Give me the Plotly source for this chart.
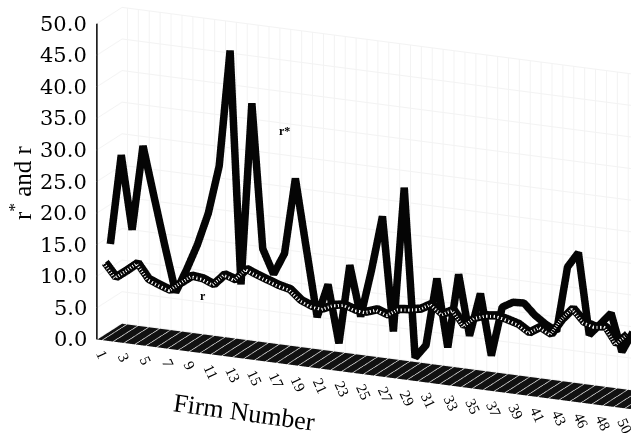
import math
import plotly.graph_objects as go

# Firm identifiers (one firm number is absent from the sample)
firms = list(range(1, 45)) + list(range(46, 51))

# Estimated return r* and required return r for each firm (%)
r_star = [14.4, 28.7, 17.1, 30.6, 22.9, 15.3, 8.1, 11.9, 16.1, 21.3,
          29.0, 47.5, 10.7, 39.6, 16.8, 13.0, 16.5, 28.6, 17.8, 7.1,
          12.5, 3.4, 16.0, 8.1, 15.7, 24.4, 6.4, 29.4, 2.7, 4.9,
          15.7, 5.0, 16.8, 7.3, 14.2, 4.6, 12.5, 13.5, 13.6, 11.9,
          10.7, 9.8, 20.2, 22.7, 9.9, 11.8, 13.8, 7.9, 11.2]
r_req = [12.0, 9.9, 11.2, 12.6, 10.3, 9.6, 9.0, 10.4, 11.7, 11.5,
         10.8, 12.6, 12.0, 13.9, 13.2, 12.6, 12.0, 11.6, 10.1, 9.4,
         9.2, 10.0, 10.3, 9.7, 9.6, 10.2, 9.6, 10.7, 10.9, 11.2,
         12.2, 10.8, 11.7, 9.4, 10.9, 11.5, 11.7, 11.3, 10.8, 9.7,
         10.8, 9.9, 12.5, 14.4, 12.5, 12.0, 12.2, 9.7, 11.4]

value_ticks = [0, 5, 10, 15, 20, 25, 30, 35, 40, 45, 50]
value_range = [0, 50]

SERIF = "Liberation Serif"
TICK_FONT = "DejaVu Serif"
idx = list(range(len(firms)))
x_range = [-0.5, len(firms) - 0.5]

# depth rows of the two ribbons (front = 0)
DEPTH_R, DEPTH_RSTAR = 0.12, 0.32

fig = go.Figure()

# r* ribbon (back row)
fig.add_trace(go.Scatter3d(
    x=idx, y=[DEPTH_RSTAR] * len(idx), z=r_star, mode="lines",
    line=dict(color="#050505", width=15), hoverinfo="skip", showlegend=False))

# r ribbon (front row): dark edge with a pale dotted face
fig.add_trace(go.Scatter3d(
    x=idx, y=[DEPTH_R] * len(idx), z=r_req, mode="lines",
    line=dict(color="#050505", width=17), hoverinfo="skip", showlegend=False))
fig.add_trace(go.Scatter3d(
    x=idx, y=[DEPTH_R - 0.06] * len(idx), z=r_req, mode="lines",
    line=dict(color="#f4f4f4", width=6, dash="dot"), hoverinfo="skip", showlegend=False))

# value axis line at the front-left corner
fig.add_trace(go.Scatter3d(
    x=[x_range[0], x_range[0]], y=[0, 0], z=value_range, mode="lines",
    line=dict(color="black", width=3), hoverinfo="skip", showlegend=False))

# camera: orthographic view from the front-right, slightly above
theta = math.radians(24.3)
phi = math.radians(16.8)
L = 4.0
right = (math.cos(theta), math.sin(theta), 0.0)
upv = (-math.sin(theta) * math.sin(phi), math.cos(theta) * math.sin(phi), math.cos(phi))
look = tuple(-0.2725 * a - 0.0642 * b for a, b in zip(right, upv))
view = (math.sin(theta) * math.cos(phi), -math.cos(theta) * math.cos(phi), math.sin(phi))
eye = dict(x=look[0] + L * view[0], y=look[1] + L * view[1], z=look[2] + L * view[2])
center = dict(x=look[0], y=look[1], z=look[2])

scene_ann = []
for v in value_ticks:
    scene_ann.append(dict(x=x_range[0], y=0, z=v, text=f"{v:.1f}", showarrow=False,
                          xanchor="right", yanchor="middle", xshift=-8,
                          font=dict(family=TICK_FONT, size=21, color="black")))
for i in range(0, len(firms), 2):
    scene_ann.append(dict(x=i, y=0, z=0, text=str(firms[i]), showarrow=False,
                          textangle=65, xanchor="center", yanchor="top", yshift=-5,
                          font=dict(family=SERIF, size=15, color="black")))

fig.update_layout(
    width=631, height=445,
    margin=dict(l=0, r=0, t=0, b=0),
    paper_bgcolor="white",
    scene=dict(
        domain=dict(x=[0, 1], y=[0, 1]),
        aspectmode="manual",
        aspectratio=dict(x=2.63, y=0.276, z=1.483),
        camera=dict(projection=dict(type="orthographic"), eye=eye,
                    center=center, up=dict(x=0, y=0, z=1)),
        xaxis=dict(range=x_range, showticklabels=False, title=dict(text=""),
                   tick0=0, dtick=1, showgrid=True, gridcolor="#f3f3f3",
                   zeroline=False, showbackground=False, showspikes=False, ticks=""),
        yaxis=dict(range=[0, 1], showticklabels=False, title=dict(text=""),
                   showgrid=False, zeroline=False, showbackground=False,
                   showspikes=False, ticks=""),
        zaxis=dict(range=value_range, showticklabels=False, title=dict(text=""),
                   tick0=0, dtick=5, showgrid=True, gridcolor="#f3f3f3",
                   zeroline=False, showbackground=True, backgroundcolor="#111111",
                   showspikes=False, ticks=""),
        bgcolor="white",
        annotations=scene_ann,
    ),
    annotations=[
        dict(x=0.032, y=0.589, xref="paper", yref="paper", text="r<sup>*</sup> and r",
             xanchor="center", yanchor="middle",
             textangle=-90, showarrow=False, font=dict(family=SERIF, size=25, color="black")),
        dict(x=0.388, y=0.074, xref="paper", yref="paper", text="Firm Number",
             xanchor="center", yanchor="middle",
             textangle=8, showarrow=False, font=dict(family=SERIF, size=26, color="black")),
        dict(x=0.451, y=0.706, xref="paper", yref="paper", text="<b>r*</b>",
             xanchor="center", yanchor="middle",
             showarrow=False, font=dict(family=SERIF, size=12, color="black")),
        dict(x=0.322, y=0.335, xref="paper", yref="paper", text="<b>r</b>",
             xanchor="center", yanchor="middle",
             showarrow=False, font=dict(family=SERIF, size=12, color="black")),
    ],
)

fig.write_html("out.html")
